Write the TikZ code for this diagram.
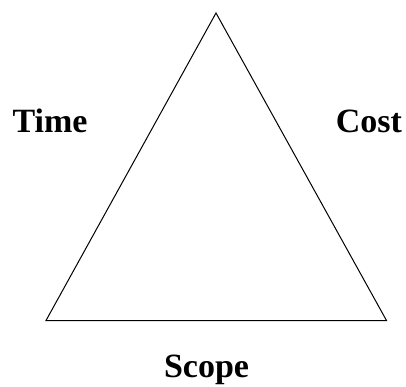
\documentclass[tikz,border=0pt]{standalone}
\usepackage{fontspec}
\setmainfont{Liberation Serif}
\begin{document}
\begin{tikzpicture}[x=1bp,y=-1bp,
  lbl/.style={font=\bfseries\fontsize{34bp}{40bp}\selectfont,inner sep=0pt,anchor=base},
  edge/.style={line width=1bp,line join=miter}]
\useasboundingbox (0,0) rectangle (406,387);
\coordinate (top) at (216,13);
\coordinate (bl) at (46,320.5);
\coordinate (br) at (386.5,320.5);
\draw[edge] (top) -- (bl) -- (br) -- cycle;
\node[lbl] (time) at (50,132) {Time};
\node[lbl] (cost) at (369,132) {Cost};
\node[lbl] (scope) at (206.5,377) {Scope};
\end{tikzpicture}
\end{document}
